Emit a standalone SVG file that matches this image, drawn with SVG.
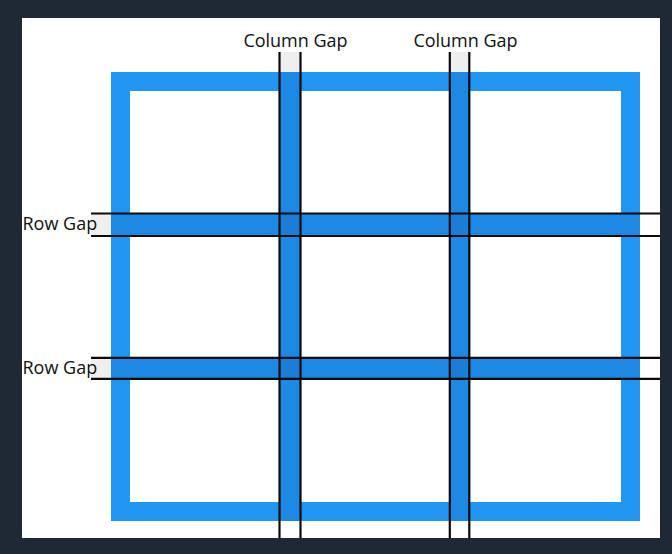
<svg xmlns="http://www.w3.org/2000/svg" width="672" height="554" viewBox="0 0 672 554">
<style>
.lbl{font-family:"Open Sans","Liberation Sans",sans-serif;font-size:18px;fill:#111}
.ln{stroke:#0A0A0A;stroke-width:2.2;fill:none}
.band{fill:#1E88E5}
.cross{fill:#1A7ED6}
.halo{fill:#EFEFEF}
</style>
<rect x="0" y="0" width="672" height="554" fill="#1E2935"/>
<rect x="22" y="18" width="638" height="520" fill="#FFFFFF"/>
<g id="outside-gaps">
<rect class="halo" x="280" y="52" width="20" height="20"/>
<rect class="halo" x="450" y="52" width="19" height="20"/>
<rect class="halo" x="91" y="214" width="20" height="22"/>
<rect class="halo" x="91" y="358" width="20" height="21"/>
</g>
<g id="grid-frame">
<rect x="120.5" y="81.5" width="510" height="430" fill="none" stroke="#2196F3" stroke-width="19"/>
</g>
<g id="gap-bands">
<rect class="band" x="280" y="72" width="20" height="449"/>
<rect class="band" x="450" y="72" width="19" height="449"/>
<rect class="band" x="111" y="214" width="529" height="22"/>
<rect class="band" x="111" y="358" width="529" height="21"/>
<rect class="cross" x="280" y="214" width="20" height="22"/>
<rect class="cross" x="450" y="214" width="19" height="22"/>
<rect class="cross" x="280" y="358" width="20" height="21"/>
<rect class="cross" x="450" y="358" width="19" height="21"/>
</g>
<g id="connectors">
<line class="ln" x1="279.5" y1="52" x2="279.5" y2="538"/>
<line class="ln" x1="300.5" y1="52" x2="300.5" y2="538"/>
<line class="ln" x1="449.8" y1="52" x2="449.8" y2="538"/>
<line class="ln" x1="469.3" y1="52" x2="469.3" y2="538"/>
<line class="ln" x1="91" y1="213.5" x2="660" y2="213.5"/>
<line class="ln" x1="91" y1="236" x2="660" y2="236"/>
<line class="ln" x1="91" y1="357.8" x2="660" y2="357.8"/>
<line class="ln" x1="91" y1="378.8" x2="660" y2="378.8"/>
</g>
<g id="label-col1"><text class="lbl" x="295.5" y="47" text-anchor="middle">Column Gap</text></g>
<g id="label-col2"><text class="lbl" x="465.5" y="47" text-anchor="middle">Column Gap</text></g>
<g id="label-row1"><text class="lbl" x="22.5" y="229.5">Row Gap</text></g>
<g id="label-row2"><text class="lbl" x="22.5" y="373.5">Row Gap</text></g>
</svg>
